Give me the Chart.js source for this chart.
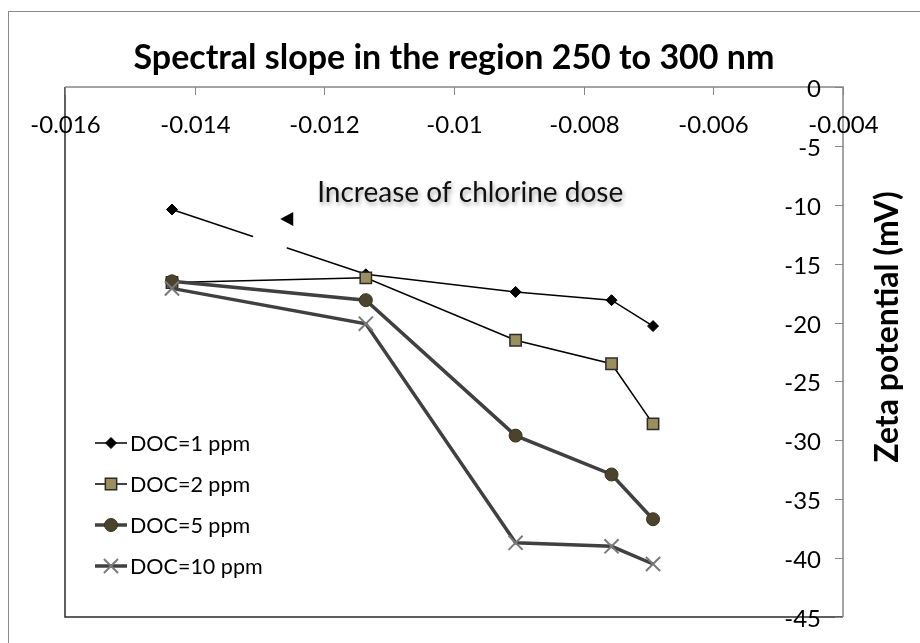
<!DOCTYPE html>
<html>
<head>
<meta charset="utf-8">
<script src="https://cdn.jsdelivr.net/npm/chart.js@4/dist/chart.umd.min.js"></script>
<style>
  html, body { margin: 0; padding: 0; background: #fff; }
  #wrap { width: 920px; height: 643px; }
</style>
</head>
<body>
<div id="wrap"><canvas id="slopeChart" width="920" height="643"></canvas></div>
<script>
// Spectral slope (x) vs zeta potential (y) for four DOC levels
const slope = [-0.01435, -0.01136, -0.00905, -0.00757, -0.00693];
const doc1 = [-10.4, -15.9, -17.4, -18.1, -20.3];
const doc2 = [-16.6, -16.2, -21.5, -23.5, -28.6];
const doc5 = [-16.5, -18.1, -29.6, -32.9, -36.7];
const doc10 = [-17.1, -20.1, -38.7, -39.0, -40.5];
const seriesNames = ['DOC=1 ppm', 'DOC=2 ppm', 'DOC=5 ppm', 'DOC=10 ppm'];

// Axis ticks
const xTicks = [-0.016, -0.014, -0.012, -0.01, -0.008, -0.006, -0.004];
const yTicks = [0, -5, -10, -15, -20, -25, -30, -35, -40, -45];

const FONT = 'Lato, "Open Sans", sans-serif';

function toPoints(ys) {
    return slope.map((x, i) => ({ x: x, y: ys[i] }));
}

// Excel-like frame: axes crossing at top/right, ticks and labels inside
const framePlugin = {
    id: 'framePlugin',
    beforeDatasetsDraw(chart) {
        const ctx = chart.ctx;
        const a = chart.chartArea;
        const xs = chart.scales.x;
        const ys = chart.scales.y;
        ctx.save();

        // outer chart border
        ctx.strokeStyle = '#8a8a8a';
        ctx.lineWidth = 1;
        ctx.strokeRect(8.5, 11.5, 940, 700);

        // plot area left + bottom
        ctx.strokeStyle = '#2a2a2a';
        ctx.lineWidth = 1.5;
        ctx.beginPath();
        ctx.moveTo(a.left, a.top);
        ctx.lineTo(a.left, a.bottom);
        ctx.lineTo(a.right, a.bottom);
        ctx.stroke();

        // axes (top and right)
        ctx.strokeStyle = '#868686';
        ctx.lineWidth = 1.5;
        ctx.beginPath();
        ctx.moveTo(a.left, a.top);
        ctx.lineTo(a.right, a.top);
        ctx.lineTo(a.right, a.bottom);
        ctx.stroke();

        // x ticks
        ctx.lineWidth = 1;
        ctx.fillStyle = '#000';
        ctx.font = '24px ' + FONT;
        ctx.textAlign = 'center';
        ctx.textBaseline = 'middle';
        xTicks.forEach(v => {
            const px = Math.round(xs.getPixelForValue(v)) + 0.5;
            ctx.beginPath();
            ctx.moveTo(px, a.top);
            ctx.lineTo(px, a.top + 8);
            ctx.stroke();
            ctx.fillText(String(v), px, a.top + 38);
        });

        // y ticks
        ctx.textAlign = 'right';
        yTicks.forEach(v => {
            const py = Math.round(ys.getPixelForValue(v)) + 0.5;
            ctx.beginPath();
            ctx.moveTo(a.right - 8, py);
            ctx.lineTo(a.right, py);
            ctx.stroke();
            ctx.fillText(String(v), a.right - 22, py + 2);
        });

        // y axis title, reads bottom to top
        ctx.save();
        ctx.translate(a.right + 45, (a.top + a.bottom) / 2 - 25);
        ctx.rotate(-Math.PI / 2);
        ctx.textAlign = 'center';
        ctx.font = 'bold 32px ' + FONT;
        ctx.fillText('Zeta potential (mV)', 0, 0);
        ctx.restore();

        ctx.restore();
    },
    afterDatasetsDraw(chart) {
        const ctx = chart.ctx;
        const a = chart.chartArea;
        const xs = chart.scales.x;
        const ys = chart.scales.y;
        ctx.save();

        // white arrow shaft cutting the DOC=1 line
        const p0 = chart.getDatasetMeta(0).data[0];
        const p1 = chart.getDatasetMeta(0).data[1];
        const gx0 = xs.getPixelForValue(-0.0131);
        const gx1 = xs.getPixelForValue(-0.01258);
        const yAt = x => p0.y + (p1.y - p0.y) * (x - p0.x) / (p1.x - p0.x);
        ctx.strokeStyle = '#fff';
        ctx.lineWidth = 6;
        ctx.beginPath();
        ctx.moveTo(gx0, yAt(gx0));
        ctx.lineTo(gx1, yAt(gx1));
        ctx.stroke();

        // arrow head
        const tx = xs.getPixelForValue(-0.01268);
        const ty = ys.getPixelForValue(-11.2);
        ctx.fillStyle = '#000';
        ctx.beginPath();
        ctx.moveTo(tx, ty);
        ctx.lineTo(tx + 13, ty - 7);
        ctx.lineTo(tx + 13, ty + 7);
        ctx.closePath();
        ctx.fill();

        // annotation text with soft shadow
        ctx.save();
        ctx.shadowColor = 'rgba(0,0,0,0.35)';
        ctx.shadowBlur = 4;
        ctx.shadowOffsetX = 1.5;
        ctx.shadowOffsetY = 2.5;
        ctx.font = '28px ' + FONT;
        ctx.textAlign = 'left';
        ctx.textBaseline = 'middle';
        ctx.fillStyle = '#111';
        ctx.fillText('Increase of chlorine dose', xs.getPixelForValue(-0.01211), ys.getPixelForValue(-9.0));
        ctx.restore();

        // legend inside plot area, lower left
        const lx = a.left + 30;
        let ly = a.top + 356;
        chart.data.datasets.forEach(ds => {
            ctx.strokeStyle = ds.borderColor;
            ctx.lineWidth = ds.borderWidth;
            ctx.beginPath();
            ctx.moveTo(lx, ly);
            ctx.lineTo(lx + 32, ly);
            ctx.stroke();
            ctx.fillStyle = ds.pointBackgroundColor;
            ctx.strokeStyle = ds.pointBorderColor;
            ctx.lineWidth = ds.pointBorderWidth;
            Chart.helpers.drawPoint(ctx, {
                pointStyle: ds.pointStyle,
                radius: ds.pointRadius,
                borderWidth: ds.pointBorderWidth,
                rotation: 0
            }, lx + 16, ly);
            ctx.fillStyle = '#000';
            ctx.font = '21.5px ' + FONT;
            ctx.textAlign = 'left';
            ctx.textBaseline = 'middle';
            ctx.fillText(ds.label, lx + 35, ly + 1);
            ly += 41;
        });

        ctx.restore();
    }
};

const ctx = document.getElementById('slopeChart').getContext('2d');

const slopeChart = new Chart(ctx, {
    type: 'scatter',
    data: {
        datasets: [
            {
                label: seriesNames[0],
                data: toPoints(doc1),
                showLine: true,
                borderColor: '#000000',
                borderWidth: 1.5,
                pointStyle: 'rectRot',
                pointRadius: 5.5,
                pointBackgroundColor: '#000000',
                pointBorderColor: '#000000',
                pointBorderWidth: 1,
                order: 4
            },
            {
                label: seriesNames[1],
                data: toPoints(doc2),
                showLine: true,
                borderColor: '#000000',
                borderWidth: 1.5,
                pointStyle: 'rect',
                pointRadius: 8,
                pointBackgroundColor: '#9b8f5e',
                pointBorderColor: '#2b2b2b',
                pointBorderWidth: 1.5,
                order: 3
            },
            {
                label: seriesNames[2],
                data: toPoints(doc5),
                showLine: true,
                borderColor: '#404040',
                borderWidth: 3.5,
                pointStyle: 'circle',
                pointRadius: 6.5,
                pointBackgroundColor: '#4c432c',
                pointBorderColor: '#3a3322',
                pointBorderWidth: 1,
                order: 2
            },
            {
                label: seriesNames[3],
                data: toPoints(doc10),
                showLine: true,
                borderColor: '#404040',
                borderWidth: 3.5,
                pointStyle: 'crossRot',
                pointRadius: 10,
                pointBackgroundColor: '#7a7a7a',
                pointBorderColor: '#7a7a7a',
                pointBorderWidth: 2,
                order: 1
            }
        ]
    },
    options: {
        responsive: false,
        animation: false,
        devicePixelRatio: 1,
        layout: { padding: { left: 65, right: 77, top: 0, bottom: 26 } },
        elements: { line: { tension: 0 } },
        scales: {
            x: { type: 'linear', min: xTicks[0], max: xTicks[xTicks.length - 1], display: false },
            y: { type: 'linear', min: yTicks[yTicks.length - 1], max: yTicks[0], display: false }
        },
        plugins: {
            legend: { display: false },
            tooltip: { enabled: false },
            title: {
                display: true,
                text: 'Spectral slope in the region 250 to 300 nm',
                color: '#000',
                font: { family: FONT, size: 34, weight: 'bold', lineHeight: 1.1 },
                padding: { top: 39, bottom: 10.6 }
            }
        }
    },
    plugins: [framePlugin]
});
</script>
</body>
</html>
